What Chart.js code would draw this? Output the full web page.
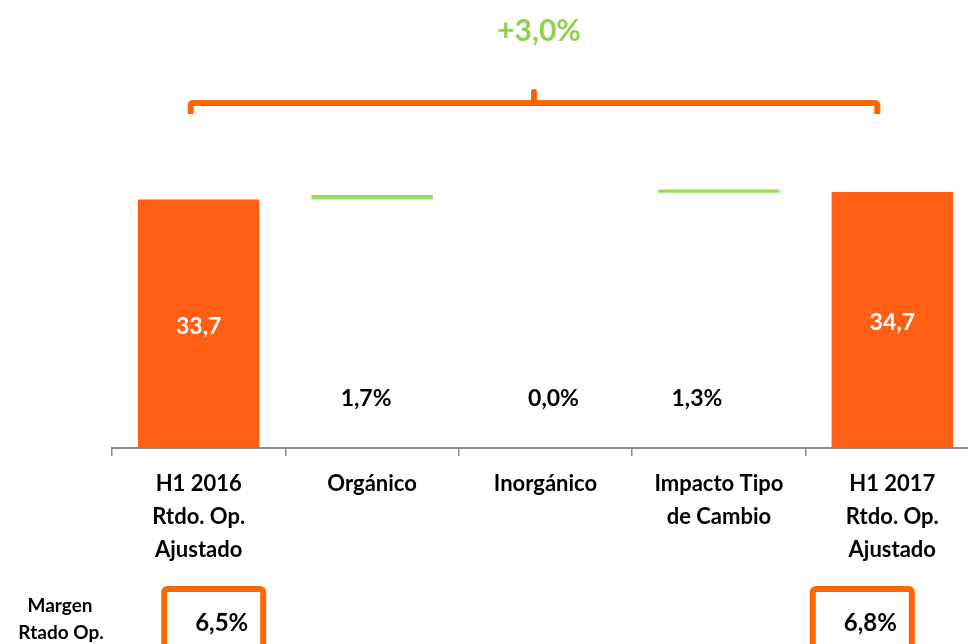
<!DOCTYPE html>
<html>
<head>
<meta charset="utf-8">
<script src="https://cdn.jsdelivr.net/npm/chart.js@4.4.1/dist/chart.umd.min.js"></script>
<style>
  html, body { margin: 0; padding: 0; background: #fff; overflow: hidden; }
  #wrap { position: relative; width: 979px; height: 644px; }
</style>
</head>
<body>
<div id="wrap"><canvas id="c"></canvas></div>
<script>
// ---- data ----
const categories = [
  ['H1 2016', 'Rtdo. Op.', 'Ajustado'],
  ['Orgánico'],
  ['Inorgánico'],
  ['Impacto Tipo', 'de Cambio'],
  ['H1 2017', 'Rtdo. Op.', 'Ajustado']
];
const barStart = [0, 33.7, 34.3, 34.6, 0];
const barEnd   = [33.7, 34.3, 34.3, 35.05, 34.7];
const barKind  = ['total', 'delta', 'delta', 'delta', 'total'];
const valueLabels = ['33,7', '1,7%', '0,0%', '1,3%', '34,7'];
const marginLabels = ['6,5%', null, null, null, '6,8%'];
const marginTitle = ['Margen', 'Rtado Op.'];
const totalChange = '+3,0%';

// ---- styles ----
const ORANGE = '#FF5F15';
const ORANGE2 = '#FF6600';
const GREEN = '#9ADB5A';
const GREEN_TXT = '#92D050';
const FONT = 'Lato, "Open Sans", sans-serif';
const W = 'bold';

const floating = barStart.map((s, i) => [s, barEnd[i]]);

const overlay = {
  id: 'overlay',
  afterDraw(chart) {
    const ctx = chart.ctx;
    const xs = chart.scales.x, ys = chart.scales.y, area = chart.chartArea;
    ctx.save();

    // brace
    const bl = xs.getPixelForValue(0) - 8;
    const br = xs.getPixelForValue(4) - 15;
    const bm = (bl + br) / 2;
    const by = area.top - 50;
    ctx.strokeStyle = ORANGE2;
    ctx.lineWidth = 6;
    ctx.lineJoin = 'round';
    ctx.lineCap = 'butt';
    ctx.beginPath();
    ctx.moveTo(bl, by + 11);
    ctx.lineTo(bl, by + 2);
    ctx.quadraticCurveTo(bl, by, bl + 3, by);
    ctx.lineTo(br - 3, by);
    ctx.quadraticCurveTo(br, by, br, by + 2);
    ctx.lineTo(br, by + 11);
    ctx.stroke();
    ctx.beginPath();
    ctx.lineCap = 'round';
    ctx.moveTo(bm, by);
    ctx.lineTo(bm, by - 11);
    ctx.stroke();

    // total change
    ctx.fillStyle = GREEN_TXT;
    ctx.font = 'bold 30px ' + FONT;
    ctx.textAlign = 'center';
    ctx.textBaseline = 'middle';
    ctx.fillText(totalChange, bm + 5, by - 72);

    // value labels
    const dx = [0, -6, 8, -22, 0];
    valueLabels.forEach((t, i) => {
      const x = xs.getPixelForValue(i) + dx[i];
      ctx.font = W + ' 23px ' + FONT;
      if (barKind[i] === 'total') {
        const y = (ys.getPixelForValue(barStart[i]) + ys.getPixelForValue(barEnd[i])) / 2 + 3;
        ctx.fillStyle = '#FFFFFF';
        ctx.fillText(t, x, y);
      } else {
        ctx.fillStyle = '#000000';
        ctx.fillText(t, x, area.bottom - 49);
      }
    });

    // margin row
    ctx.fillStyle = '#000000';
    ctx.font = W + ' 19px ' + FONT;
    ctx.fillText(marginTitle[0], 60, 606);
    ctx.fillText(marginTitle[1], 61, 633);
    const bdx = [15, null, null, null, -30];
    marginLabels.forEach((t, i) => {
      if (!t) return;
      const cx = xs.getPixelForValue(i) + bdx[i];
      const w = 99, top = 589;
      ctx.strokeStyle = ORANGE2;
      ctx.lineWidth = 6;
      ctx.beginPath();
      ctx.roundRect(cx - w / 2, top, w, 80, 3);
      ctx.stroke();
      ctx.fillStyle = '#000000';
      ctx.font = W + ' 24px ' + FONT;
      ctx.fillText(t, cx + 8, 623);
    });

    ctx.restore();
  }
};

new Chart(document.getElementById('c'), {
  type: 'bar',
  data: {
    labels: categories,
    datasets: [{
      data: floating,
      backgroundColor: barKind.map(k => k === 'total' ? ORANGE : GREEN),
      borderWidth: 0,
      borderSkipped: false,
      categoryPercentage: 1,
      barPercentage: 0.7
    }]
  },
  options: {
    responsive: true,
    maintainAspectRatio: false,
    animation: false,
    layout: { padding: { left: 112, right: 0, top: 153, bottom: 67 } },
    plugins: { legend: { display: false }, tooltip: { enabled: false } },
    scales: {
      y: { display: false, min: 0, max: 40 },
      x: {
        grid: {
          drawOnChartArea: false,
          drawTicks: true,
          tickLength: 8,
          color: '#8C8C8C',
          lineWidth: 1.5,
          offset: true
        },
        border: { display: true, color: '#8C8C8C', width: 2 },
        ticks: {
          color: '#000000',
          font: { family: FONT, size: 22, weight: W, lineHeight: 1.5 },
          padding: 11,
          maxRotation: 0,
          autoSkip: false
        }
      }
    }
  },
  plugins: [overlay]
});
</script>
</body>
</html>
